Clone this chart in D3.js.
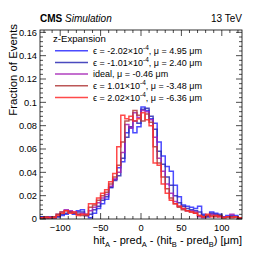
<!DOCTYPE html>
<html lang="en">
<head>
<meta charset="UTF-8">
<title>z-Expansion residuals</title>
<style>
  body { margin: 0; background: #fff; }
  text { font-family: "Liberation Sans", Arial, sans-serif; fill: #000; }
</style>
</head>
<body>
<script src="https://d3js.org/d3.v7.min.js"></script>
<div id="chart"></div>
<script>
// bin left edges, 5 um wide, from -125 to 125
const binEdges = d3.range(-125, 125, 5);

const epsM202 = [0.002,0.002,0.001,0.001,0.002,0.003,0.004,0.006,0.004,0.007,0.008,0.004,0.001,0.005,0.009,0.013,0.017,0.027,0.034,0.044,0.049,0.074,0.078,0.074,0.079,
                 0.096,0.093,0.086,0.082,0.066,0.054,0.045,0.041,0.029,0.019,0.012,0.011,0.010,0.009,0.011,0.004,0.002,0.006,0.005,0.004,0.002,0.003,0.002,0.003,0.001];
const epsM101 = [0.002,0.001,0.002,0.001,0.002,0.004,0.005,0.006,0.005,0.006,0.006,0.003,0.004,0.008,0.011,0.016,0.019,0.027,0.033,0.037,0.052,0.070,0.079,0.084,0.082,
                 0.094,0.095,0.088,0.077,0.058,0.047,0.036,0.029,0.020,0.014,0.011,0.009,0.008,0.007,0.006,0.003,0.002,0.005,0.004,0.003,0.002,0.002,0.003,0.002,0.001];
const ideal   = [0.001,0.001,0.002,0.002,0.004,0.006,0.008,0.007,0.006,0.004,0.005,0.003,0.007,0.010,0.014,0.018,0.021,0.028,0.034,0.040,0.057,0.081,0.078,0.091,0.087,
                 0.093,0.092,0.085,0.070,0.052,0.041,0.030,0.022,0.015,0.011,0.009,0.007,0.007,0.006,0.002,0.001,0.003,0.004,0.003,0.002,0.002,0.002,0.004,0.002,0.001];
const epsP101 = [0.001,0.002,0.001,0.002,0.004,0.006,0.007,0.006,0.005,0.004,0.003,0.003,0.010,0.012,0.016,0.020,0.023,0.030,0.036,0.046,0.066,0.084,0.085,0.093,0.089,
                 0.084,0.090,0.083,0.062,0.048,0.036,0.026,0.018,0.013,0.010,0.008,0.007,0.006,0.005,0.003,0.002,0.003,0.003,0.002,0.003,0.001,0.002,0.002,0.002,0.001];
const epsP202 = [0.001,0.001,0.001,0.001,0.003,0.005,0.007,0.005,0.006,0.003,0.004,0.004,0.013,0.013,0.018,0.022,0.025,0.032,0.039,0.062,0.089,0.086,0.088,0.084,0.086,
                 0.091,0.085,0.080,0.048,0.046,0.030,0.022,0.016,0.013,0.011,0.009,0.007,0.006,0.005,0.003,0.002,0.004,0.002,0.003,0.002,0.001,0.002,0.001,0.002,0.001];

const seriesValues = [epsM202, epsM101, ideal, epsP101, epsP202];
const seriesColors = ["#2b2bff", "#2a2ab4", "#a21fb4", "#b03a3a", "#ff2a2a"];
// legend: [epsilon mantissa, mu]; null = ideal
const legendLabels = [
  {eps: "-2.02", mu: "4.95"},
  {eps: "-1.01", mu: "2.40"},
  {eps: null,    mu: "-0.46"},
  {eps: "1.01",  mu: "-3.48"},
  {eps: "2.02",  mu: "-6.36"}
];
const xTicks = [-100, -50, 0, 50, 100];
const yTicks = [0, 0.02, 0.04, 0.06, 0.08, 0.1, 0.12, 0.14, 0.16];

const W = 266, H = 259;
const margin = {top: 30, right: 24, bottom: 40, left: 40};
const width = W - margin.left - margin.right;
const height = H - margin.top - margin.bottom;

const svg = d3.select("#chart").append("svg")
  .attr("width", W).attr("height", H);
const g = svg.append("g")
  .attr("transform", `translate(${margin.left},${margin.top})`);

const x = d3.scaleLinear().domain([-125, 125]).range([0, width]);
const y = d3.scaleLinear().domain([0, 0.162]).range([height, 0]);

// histograms as step outlines
const line = d3.line().curve(d3.curveStepAfter).x(d => x(d[0])).y(d => y(d[1]));
seriesValues.forEach((vals, i) => {
  const pts = binEdges.map((e, j) => [e, vals[j]]);
  pts.push([125, vals[vals.length - 1]]);
  g.append("path")
    .attr("d", line(pts))
    .attr("fill", "none")
    .attr("stroke", seriesColors[i])
    .attr("stroke-opacity", 0.85)
    .attr("stroke-width", 1.5);
});

// frame
g.append("rect").attr("width", width).attr("height", height)
  .attr("fill", "none").attr("stroke", "#000").attr("stroke-width", 0.8);

// ROOT style ticks, inside, on all four sides
const xMinor = d3.range(-120, 121, 10);
const yMinor = d3.range(0, 0.161, 0.004);
const tk = g.append("g").attr("stroke", "#000").attr("stroke-width", 0.7);
xMinor.forEach(v => {
  const len = (v % 50 === 0) ? 6 : 3;
  tk.append("line").attr("x1", x(v)).attr("x2", x(v)).attr("y1", height).attr("y2", height - len);
  tk.append("line").attr("x1", x(v)).attr("x2", x(v)).attr("y1", 0).attr("y2", len);
});
yMinor.forEach((v, i) => {
  const len = (i % 5 === 0) ? 6 : 3;
  tk.append("line").attr("y1", y(v)).attr("y2", y(v)).attr("x1", 0).attr("x2", len);
  tk.append("line").attr("y1", y(v)).attr("y2", y(v)).attr("x1", width).attr("x2", width - len);
});

// tick labels
g.selectAll(".xl").data(xTicks).join("text")
  .attr("x", d => x(d)).attr("y", height + 12)
  .attr("text-anchor", "middle").style("font-size", "9.3px")
  .text(d => d < 0 ? "\u2212" + Math.abs(d) : d);
g.selectAll(".yl").data(yTicks).join("text")
  .attr("x", -3).attr("y", d => y(d) + 3.3)
  .attr("text-anchor", "end").style("font-size", "9.3px")
  .text(d => d === 0 ? "0" : d3.format("")(+d.toFixed(2)));

// axis titles
const xt = g.append("text").attr("x", width).attr("y", height + 24.5)
  .attr("text-anchor", "end").style("font-size", "11px");
xt.append("tspan").text("hit");
xt.append("tspan").attr("dy", 3).style("font-size", "7.5px").text("A");
xt.append("tspan").attr("dy", -3).text(" - pred");
xt.append("tspan").attr("dy", 3).style("font-size", "7.5px").text("A");
xt.append("tspan").attr("dy", -3).text(" - (hit");
xt.append("tspan").attr("dy", 3).style("font-size", "7.5px").text("B");
xt.append("tspan").attr("dy", -3).text(" - pred");
xt.append("tspan").attr("dy", 3).style("font-size", "7.5px").text("B");
xt.append("tspan").attr("dy", -3).text(") [\u03bcm]");

g.append("text")
  .attr("transform", `translate(${-23},${-6}) rotate(-90)`)
  .attr("text-anchor", "end").style("font-size", "11.4px")
  .text("Fraction of Events");

// header
const hd = g.append("text").attr("x", 0).attr("y", -8).style("font-size", "10px");
hd.append("tspan").style("font-weight", "bold").text("CMS");
hd.append("tspan").style("font-style", "italic").text(" Simulation");
g.append("text").attr("x", width).attr("y", -8).attr("text-anchor", "end")
  .style("font-size", "10px").text("13 TeV");

// legend
const lg = g.append("g");
lg.append("text").attr("x", 13).attr("y", 12).style("font-size", "9.6px").text("z-Expansion");
legendLabels.forEach((d, i) => {
  const ly = 20.7 + i * 11.7;
  lg.append("line").attr("x1", 15).attr("x2", 48).attr("y1", ly).attr("y2", ly)
    .attr("stroke", seriesColors[i]).attr("stroke-width", 1.5).attr("stroke-opacity", 0.85);
  const t = lg.append("text").attr("x", 53).attr("y", ly + 3.3).style("font-size", "9px");
  if (d.eps === null) {
    t.text("ideal, \u03bc = " + d.mu + " \u03bcm");
  } else {
    t.append("tspan").text("\u03f5 = " + d.eps + "\u00d710");
    t.append("tspan").attr("dy", -4).style("font-size", "6.5px").text("-4");
    t.append("tspan").attr("dy", 4).text(", \u03bc = " + d.mu + " \u03bcm");
  }
});
</script>
</body>
</html>
